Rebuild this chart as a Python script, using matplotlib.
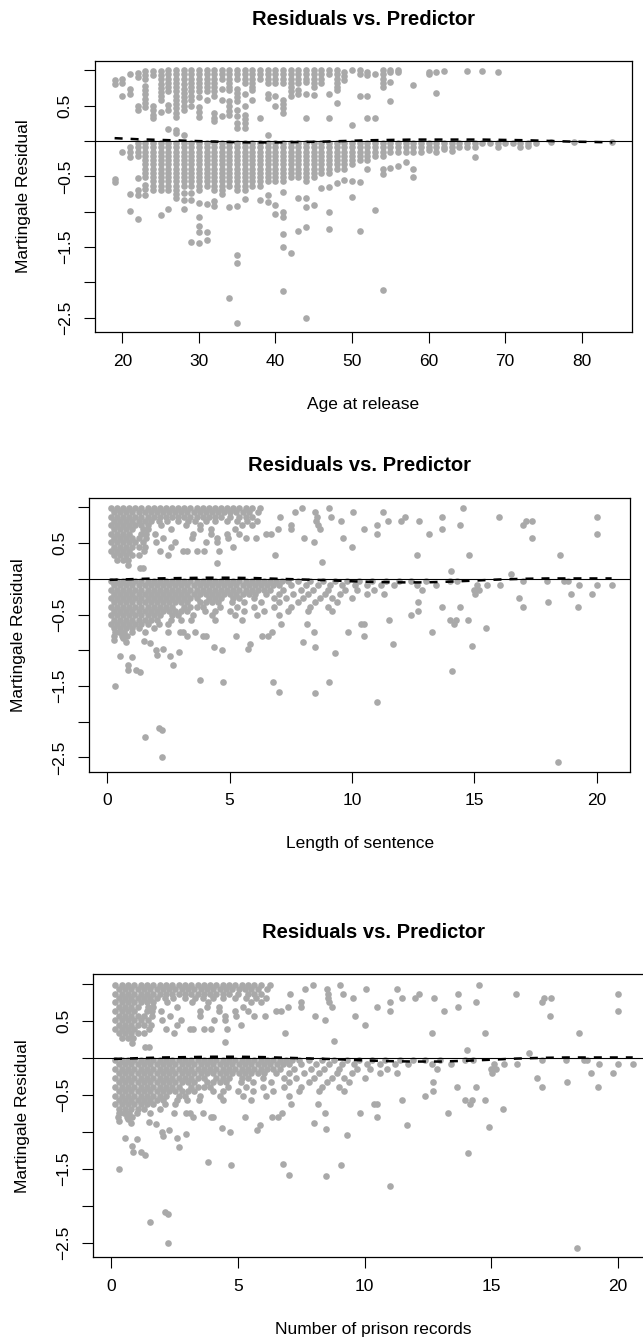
import matplotlib.pyplot as plt

plt.rcParams['font.family'] = ['Liberation Sans', 'DejaVu Sans']

# ---------------- panel 1: age at release (integer ages) ----------------
ages = [19, 20, 21, 22, 23, 24, 25, 26, 27, 28, 29, 30, 31, 32, 33, 34, 35, 36,
        37, 38, 39, 40, 41, 42, 43, 44, 45, 46, 47, 48, 49, 50, 51, 52, 53, 54,
        55, 56, 57, 58, 59, 60, 61, 62, 63, 64, 65, 66, 67, 68, 69, 70, 71, 72,
        73, 74, 76, 79, 84]

age_pos = [
    [0.86, 0.81],
    [0.88, 0.82, 0.64],
    [0.95, 0.73, 0.66],
    [0.96, 0.91, 0.5, 0.44],
    [0.99, 0.93, 0.87, 0.78, 0.72, 0.66, 0.6, 0.54, 0.48],
    [0.99, 0.93, 0.5, 0.44, 0.37, 0.32],
    [0.99, 0.93, 0.87, 0.81, 0.75, 0.69, 0.63, 0.58, 0.41],
    [1.0, 0.94, 0.88, 0.82, 0.76, 0.7, 0.51, 0.44, 0.17],
    [1.0, 0.94, 0.88, 0.82, 0.76, 0.7, 0.64, 0.58, 0.52, 0.46, 0.4, 0.34, 0.16, 0.11],
    [1.0, 0.94, 0.88, 0.8, 0.74, 0.68, 0.62, 0.56, 0.5, 0.44, 0.08],
    [1.0, 0.94, 0.88, 0.82, 0.76, 0.7, 0.64, 0.58, 0.5],
    [1.0, 0.94, 0.88, 0.82, 0.76, 0.7, 0.62, 0.48, 0.41, 0.34],
    [1.0, 0.94, 0.88, 0.82, 0.76, 0.7, 0.58],
    [1.0, 0.94, 0.88, 0.82, 0.76, 0.7, 0.64, 0.39, 0.33, 0.28],
    [1.0, 0.94, 0.88, 0.74, 0.58, 0.35],
    [1.0, 0.94, 0.88, 0.82, 0.76, 0.72, 0.56, 0.49, 0.43, 0.37],
    [1.0, 0.94, 0.88, 0.74, 0.68, 0.62, 0.56, 0.44, 0.35, 0.25, 0.18],
    [1.0, 0.94, 0.88, 0.82, 0.67, 0.49, 0.37, 0.31, 0.25, 0.19],
    [1.0, 0.94, 0.88, 0.82, 0.76, 0.72, 0.58],
    [1.0, 0.94, 0.88, 0.32],
    [1.0, 0.94, 0.88, 0.82, 0.67, 0.61, 0.09],
    [1.0, 0.94, 0.88, 0.82, 0.63, 0.49],
    [1.0, 0.94, 0.88, 0.82, 0.58, 0.52, 0.46, 0.4],
    [1.0, 0.94, 0.88, 0.82, 0.76, 0.7, 0.63],
    [1.0, 0.94, 0.88, 0.82, 0.72, 0.67],
    [1.0, 0.94, 0.88, 0.83, 0.67, 0.32],
    [1.0, 0.94, 0.88, 0.82, 0.77, 0.65],
    [1.0, 0.94, 0.88, 0.82],
    [1.0, 0.95, 0.66, 0.32],
    [1.0, 0.94, 0.88, 0.82, 0.76, 0.72, 0.53],
    [0.98, 0.92, 0.86],
    [1.0, 0.23],
    [1.0, 0.94, 0.63],
    [0.98, 0.93, 0.63, 0.32],
    [0.95, 0.32],
    [1.0, 0.94, 0.88, 0.82, 0.77],
    [1.0, 0.97, 0.84, 0.56],
    [1.0, 0.98],
    [],
    [0.79],
    [],
    [0.98, 0.95],
    [0.98, 0.68],
    [0.99],
    [], [],
    [0.99],
    [],
    [0.99],
    [],
    [0.98],
    [], [], [], [], [], [], [], [],
]

age_neg = [
    [-0.54, -0.58],
    [-0.15],
    [-0.08, -0.15, -0.22, -0.75, -0.99],
    [-0.03, -0.09, -0.15, -0.21, -0.53, -0.69, -0.77, -1.1],
    [-0.03, -0.09, -0.15, -0.21, -0.27, -0.33, -0.39, -0.45, -0.51, -0.62, -0.68, -0.77],
    [-0.03, -0.09, -0.15, -0.21, -0.27, -0.33, -0.39, -0.45, -0.51, -0.57, -0.63, -0.69],
    [-0.03, -0.09, -0.15, -0.21, -0.27, -0.33, -0.39, -0.45, -0.51, -0.57, -0.63, -0.69, -1.05],
    [-0.03, -0.09, -0.15, -0.21, -0.27, -0.33, -0.39, -0.45, -0.51, -0.57, -0.63, -0.69, -0.96],
    [-0.03, -0.09, -0.15, -0.21, -0.27, -0.33, -0.39, -0.45, -0.51, -0.57, -0.63, -0.69, -0.75, -0.81],
    [-0.03, -0.09, -0.15, -0.21, -0.27, -0.33, -0.39, -0.45, -0.51, -0.57, -0.63, -0.74, -0.83, -0.96],
    [-0.03, -0.09, -0.15, -0.21, -0.27, -0.33, -0.39, -0.45, -0.51, -0.57, -0.63, -0.74, -0.83, -1.43],
    [-0.03, -0.09, -0.15, -0.21, -0.27, -0.33, -0.39, -0.45, -0.51, -0.57, -0.63, -0.69, -0.88,
     -1.07, -1.2, -1.29, -1.44],
    [-0.03, -0.09, -0.15, -0.21, -0.27, -0.33, -0.39, -0.45, -0.51, -0.57, -0.63, -0.89, -1.29, -1.4],
    [-0.03, -0.09, -0.15, -0.21, -0.27, -0.33, -0.39, -0.45, -0.51, -0.57, -0.63, -0.69, -0.85, -0.92],
    [-0.03, -0.09, -0.15, -0.21, -0.27, -0.33, -0.39, -0.45, -0.51, -0.57, -0.63, -0.69, -0.75],
    [-0.03, -0.09, -0.15, -0.21, -0.27, -0.33, -0.39, -0.45, -0.51, -0.57, -0.63, -0.94, -2.22],
    [-0.03, -0.09, -0.15, -0.21, -0.27, -0.33, -0.39, -0.45, -0.51, -0.57, -0.63, -0.69, -0.92,
     -1.61, -1.73, -2.57],
    [-0.03, -0.09, -0.15, -0.21, -0.27, -0.33, -0.39, -0.45, -0.51, -0.57, -0.63, -0.69, -0.82],
    [-0.03, -0.09, -0.15, -0.21, -0.27, -0.33, -0.39, -0.45, -0.51, -0.57, -0.63],
    [-0.03, -0.09, -0.15, -0.21, -0.27, -0.33, -0.39, -0.45, -0.51, -0.57, -0.63, -0.84],
    [-0.03, -0.09, -0.15, -0.21, -0.27, -0.33, -0.39, -0.45, -0.51, -0.57, -0.76, -0.86],
    [-0.03, -0.09, -0.15, -0.21, -0.27, -0.33, -0.39, -0.45, -0.51, -0.57, -0.91, -1.03],
    [-0.03, -0.09, -0.15, -0.21, -0.27, -0.33, -0.39, -0.45, -0.51, -0.57, -0.72, -1.0, -1.07,
     -1.31, -1.5, -2.12],
    [-0.03, -0.09, -0.15, -0.21, -0.27, -0.33, -0.39, -0.45, -0.51, -1.58],
    [-0.03, -0.09, -0.15, -0.21, -0.27, -0.33, -0.39, -0.45, -0.51, -0.8, -1.27],
    [-0.03, -0.09, -0.15, -0.21, -0.27, -0.33, -0.39, -0.45, -0.51, -0.57, -0.8, -0.94, -1.21, -2.5],
    [-0.03, -0.09, -0.15, -0.21, -0.27, -0.33, -0.39, -0.45, -0.51, -0.9],
    [-0.03, -0.09, -0.15, -0.21, -0.27, -0.33, -0.39, -0.45, -0.67],
    [-0.03, -0.09, -0.15, -0.21, -0.27, -0.33, -0.39, -0.45, -0.65, -1.0, -1.25],
    [-0.03, -0.09, -0.15, -0.21, -0.27, -0.33, -0.39, -0.6],
    [-0.03, -0.09, -0.15, -0.21, -0.27, -0.33, -0.39, -0.55],
    [-0.03, -0.09, -0.15, -0.21, -0.27, -0.33, -0.56, -0.79],
    [-0.03, -0.09, -0.15, -0.21, -0.27, -0.58, -1.27],
    [-0.03, -0.09, -0.15, -0.21, -0.27, -0.4],
    [-0.03, -0.09, -0.15, -0.21, -0.97],
    [-0.03, -0.09, -0.15, -0.21, -0.4, -0.47, -2.1],
    [-0.03, -0.09, -0.15, -0.38],
    [-0.03, -0.09, -0.15, -0.35],
    [-0.03, -0.09, -0.15, -0.3],
    [-0.03, -0.09, -0.15, -0.4, -0.51],
    [-0.03, -0.09, -0.15],
    [-0.03, -0.09, -0.13],
    [-0.03, -0.09, -0.15],
    [-0.03, -0.09, -0.12],
    [-0.03, -0.09, -0.14],
    [-0.03, -0.08],
    [-0.03, -0.08],
    [-0.03, -0.08, -0.23],
    [-0.03],
    [-0.03],
    [-0.03, -0.09],
    [-0.03],
    [-0.03],
    [-0.03, -0.09],
    [-0.03, -0.07],
    [-0.03],
    [-0.02],
    [-0.02],
    [-0.01],
]

# lowess-type smooth drawn as the dashed line
age_smooth_x = [19, 22, 25, 28, 31, 34, 37, 40, 43, 46, 49, 52, 55, 58, 61, 64,
                67, 70, 73, 76, 79, 82, 84]
age_smooth_y = [0.04, 0.025, 0.015, 0.005, -0.005, -0.015, -0.02, -0.02, -0.015,
                -0.01, 0.0, 0.01, 0.015, 0.02, 0.02, 0.02, 0.02, 0.015, 0.01, 0.0,
                -0.01, -0.015, -0.02]

# ---------------- panels 2 and 3: length of sentence / prison records ----------------
pos_rows_res = [0.99, 0.93, 0.87, 0.81, 0.75, 0.69, 0.63, 0.57, 0.51, 0.45, 0.39, 0.33, 0.27]
pos_rows_x = [
    [0.15, 0.4, 0.65, 0.9, 1.15, 1.4, 1.65, 1.9, 2.15, 2.4, 2.65, 2.9, 3.15, 3.4, 3.65, 3.9,
     4.15, 4.4, 4.65, 4.9, 5.15, 5.4, 5.65, 5.9, 6.25, 7.95, 9.04, 14.52],
    [0.28, 0.53, 0.78, 1.03, 1.28, 1.53, 1.78, 2.03, 2.28, 2.53, 2.78, 3.03, 3.28, 3.53, 3.78,
     4.03, 4.28, 4.53, 4.78, 5.03, 5.28, 5.53, 5.78, 6.15, 7.65, 8.5, 10.05, 11.28],
    [0.15, 0.4, 0.65, 0.9, 1.15, 1.4, 1.65, 1.9, 2.15, 2.4, 2.65, 2.9, 3.15, 3.4, 3.65, 3.9,
     4.15, 4.4, 4.65, 5.0, 5.4, 5.65, 5.9, 7.06, 8.57, 9.14, 12.15, 13.68, 16.0, 20.0],
    [0.28, 0.53, 0.78, 1.03, 1.28, 1.53, 1.78, 2.1, 2.45, 2.9, 3.3, 3.6, 4.03, 4.4, 4.9, 5.3,
     5.7, 6.1, 8.54, 9.54, 11.48, 12.0, 12.74, 17.1, 17.35],
    [0.15, 0.4, 0.65, 0.9, 1.15, 1.4, 1.65, 2.2, 3.2, 3.8, 5.5, 5.9, 7.5, 8.6, 11.0, 14.39, 17.0],
    [0.28, 0.53, 0.78, 1.03, 1.45, 1.65, 2.6, 3.78, 4.24, 5.2, 6.97, 7.5, 8.7, 10.5, 13.68],
    [0.15, 0.4, 0.65, 0.9, 1.4, 1.6, 1.95, 3.5, 4.23, 4.9, 5.4, 6.5, 6.7, 11.0, 13.13, 20.0],
    [0.28, 0.53, 0.78, 1.03, 1.3, 1.6, 2.3, 3.48, 4.5, 4.92, 5.65, 6.08, 8.03, 9.63, 17.33],
    [0.15, 0.4, 0.65, 0.9, 1.15, 1.45, 2.0, 2.76, 4.05, 4.5, 8.43],
    [0.28, 0.53, 0.78, 1.03, 1.28, 1.55, 2.6, 5.13, 10.0],
    [0.15, 0.4, 0.65, 0.9, 1.5, 2.15, 3.1, 3.24, 3.65, 3.95, 4.55],
    [0.28, 0.53, 0.78, 1.03, 1.28, 2.49, 6.86, 12.65, 14.78, 18.49],
    [0.4, 0.65, 0.85],
]

neg_rows_res = [-0.03, -0.09, -0.15, -0.21, -0.27, -0.33, -0.39, -0.45, -0.51, -0.57,
                -0.63, -0.69, -0.75, -0.8]
neg_rows_x = [
    [0.15, 0.4, 0.65, 0.9, 1.15, 1.4, 1.65, 1.9, 2.15, 2.4, 2.65, 2.9, 3.15, 3.4, 3.65, 3.9,
     4.15, 4.4, 4.65, 4.9, 5.15, 5.4, 5.65, 5.9, 6.15, 6.4, 6.65, 6.9, 7.15, 7.4,
     7.8, 8.3, 8.8, 9.3, 9.8, 10.3, 10.8, 11.4, 11.9, 12.4, 13.0, 13.99, 14.28, 17.0,
     17.98, 18.66, 18.8],
    [0.28, 0.53, 0.78, 1.03, 1.28, 1.53, 1.78, 2.03, 2.28, 2.53, 2.78, 3.03, 3.28, 3.53, 3.78,
     4.03, 4.28, 4.53, 4.78, 5.03, 5.28, 5.53, 5.78, 6.03, 6.28, 6.53, 6.78, 7.03,
     7.5, 8.1, 8.6, 9.1, 9.6, 10.1, 10.6, 11.2, 11.7, 12.67, 13.43, 15.1, 15.5, 16.03,
     19.25, 20.0, 20.6],
    [0.15, 0.4, 0.65, 0.9, 1.15, 1.4, 1.65, 1.9, 2.15, 2.4, 2.65, 2.9, 3.15, 3.4, 3.65, 3.9,
     4.15, 4.4, 4.65, 4.9, 5.15, 5.4, 5.65, 5.9, 6.15, 6.4, 6.65,
     7.2, 7.9, 8.4, 9.0, 9.7, 10.2, 10.9, 12.87, 15.0, 15.2],
    [0.28, 0.53, 0.78, 1.03, 1.28, 1.53, 1.78, 2.03, 2.28, 2.53, 2.78, 3.03, 3.28, 3.53, 3.78,
     4.03, 4.28, 4.53, 4.78, 5.03, 5.28, 5.53, 5.78, 6.03,
     6.5, 7.0, 7.6, 8.2, 8.9, 9.5, 10.6, 11.3, 15.04, 18.96, 19.8],
    [0.15, 0.4, 0.65, 0.9, 1.15, 1.4, 1.65, 1.9, 2.15, 2.4, 2.65, 2.9, 3.15, 3.4, 3.65,
     4.15, 4.4, 4.65, 5.15, 5.4,
     6.0, 6.8, 7.3, 8.0, 8.7, 9.2, 10.0, 16.8],
    [0.28, 0.53, 0.78, 1.03, 1.28, 1.53, 1.78, 2.03, 2.28, 2.53, 2.78, 3.03, 3.28, 3.78,
     4.03, 4.28, 4.53,
     5.1, 5.6, 6.3, 7.0, 7.8, 8.5, 9.4, 12.7, 18.0],
    [0.15, 0.4, 0.65, 0.9, 1.15, 1.4, 1.65, 1.9, 2.15, 2.4, 2.65, 3.15, 3.4, 3.65, 3.9,
     4.6, 5.3, 6.0, 6.8, 7.5, 8.3, 9.0, 13.66, 14.4, 17.0, 19.22],
    [0.28, 0.53, 0.78, 1.03, 1.28, 1.53, 1.78, 2.03, 2.28, 2.53, 2.78, 3.03, 3.28,
     4.0, 4.4, 5.0, 5.6, 6.4, 7.4, 8.2, 9.2, 12.7],
    [0.15, 0.4, 0.65, 0.9, 1.15, 1.4, 1.65, 1.9, 2.15, 2.65, 2.9,
     3.5, 4.3, 5.2, 6.1, 7.0, 12.4],
    [0.28, 0.53, 0.78, 1.03, 1.28, 1.53, 1.78, 2.03,
     2.6, 3.0, 3.44, 4.4, 5.5, 11.5, 13.99, 14.25, 14.75],
    [0.15, 0.4, 0.65, 0.9, 1.15, 1.4, 1.65, 2.1, 2.5, 7.1, 8.18, 10.36, 10.49, 14.16],
    [0.28, 0.53, 0.78, 1.03, 1.28, 1.9, 15.47],
    [0.3, 0.5, 0.7, 1.0, 1.54, 2.49, 2.96, 3.09, 3.6, 6.75, 8.44, 9.82, 13.28],
    [0.27, 0.6, 0.8, 3.24, 3.92, 4.03, 5.28, 6.33, 6.57, 10.49],
]

sent_scatter = [
    (0.83, 0.2), (1.33, 0.15), (1.47, 0.15), (4.5, 0.22), (8.79, 0.23), (14.05, 0.11),
    (16.5, 0.07), (0.29, -0.86), (0.65, -0.83), (0.76, -0.88), (0.52, -1.08), (1.0, -1.1),
    (0.83, -1.2), (0.86, -1.27), (1.17, -1.28), (1.33, -1.31), (1.5, -0.87), (1.74, -0.9),
    (2.0, -1.0), (2.03, -1.06), (2.26, -0.98), (2.58, -1.08), (2.67, -1.21), (2.94, -1.03),
    (3.8, -1.41), (4.37, -0.95), (4.67, -1.0), (4.73, -1.45), (5.75, -0.98), (5.85, -0.91),
    (6.77, -1.44), (7.02, -1.58), (8.0, -0.88), (8.49, -0.96), (8.49, -1.6), (9.06, -1.45),
    (9.3, -1.04), (11.02, -1.73), (11.66, -0.91), (14.1, -1.29), (14.9, -0.94), (0.31, -1.5),
    (1.54, -2.22), (2.11, -2.09), (2.23, -2.11), (2.23, -2.5), (18.4, -2.57),
]

sent_smooth_x = [0.1, 1, 2, 3, 4, 5, 6, 7, 8, 9, 10, 11, 12, 13, 14, 15, 16, 17, 18,
                 19, 20, 20.6]
sent_smooth_y = [-0.015, -0.005, 0.005, 0.01, 0.015, 0.015, 0.01, 0.0, -0.01, -0.02,
                 -0.035, -0.045, -0.05, -0.05, -0.04, -0.025, -0.01, 0.0, 0.005, 0.005,
                 0.005, 0.005]

# flatten
age_x, age_y = [], []
for a, p, n in zip(ages, age_pos, age_neg):
    for r in p + n:
        age_x.append(a)
        age_y.append(r)

sent_x, sent_r = [], []
for r, xs in zip(pos_rows_res + neg_rows_res, pos_rows_x + neg_rows_x):
    sent_x += xs
    sent_r += [r] * len(xs)
for x, r in sent_scatter:
    sent_x.append(x)
    sent_r.append(r)

W, H = 643, 1341
fig = plt.figure(figsize=(W / 100, H / 100), dpi=100)


def panel(left, top, right, bottom, x, y, sx, sy, xlim, xticks, xlabel, title_off=30):
    ax = fig.add_axes([left / W, 1 - bottom / H, (right - left) / W, (bottom - top) / H])
    ax.scatter(x, y, s=23, c='#a9a9a9', linewidths=0, zorder=2)
    ax.axhline(0, color='black', lw=0.8, zorder=3)
    ax.plot(sx, sy, color='black', lw=1.8, ls=(0, (3.2, 3.2)), zorder=4)
    ax.set_xlim(xlim)
    ax.set_ylim(-2.70, 1.135)
    ax.set_xticks(xticks)
    ax.set_yticks([1.0, 0.5, 0, -0.5, -1, -1.5, -2, -2.5])
    ax.set_yticklabels(['', '0.5', '', '\u22120.5', '', '\u22121.5', '', '\u22122.5'],
                       rotation=90, va='center')
    ax.tick_params(direction='out', length=8, width=0.8, labelsize=12.5)
    ax.tick_params(axis='x', pad=7.5)
    ax.tick_params(axis='y', pad=7.8)
    for s in ax.spines.values():
        s.set_linewidth(0.9)
    ax.annotate('Residuals vs. Predictor', (0.5, 1), xycoords='axes fraction',
                xytext=(0, title_off), textcoords='offset points', ha='center',
                va='center', fontsize=14.5, fontweight='bold')
    ax.annotate(xlabel, (0.5, 0), xycoords='axes fraction', xytext=(0, -52),
                textcoords='offset points', ha='center', va='center', fontsize=12.5)
    ax.annotate('Martingale Residual', (0, 0.5), xycoords='axes fraction',
                xytext=(-51, 0), textcoords='offset points', ha='center', va='center',
                rotation=90, fontsize=12.5)
    return ax


panel(94.7, 60.7, 632.3, 332, age_x, age_y, age_smooth_x, age_smooth_y,
      (16.4, 86.6), [20, 30, 40, 50, 60, 70, 80], 'Age at release')
panel(89.3, 497.7, 630, 771.7, sent_x, sent_r, sent_smooth_x, sent_smooth_y,
      (-0.73, 21.35), [0, 5, 10, 15, 20], 'Length of sentence', title_off=23.5)
panel(93, 974, 653, 1257.3, sent_x, sent_r, sent_smooth_x, sent_smooth_y,
      (-0.73, 21.4), [0, 5, 10, 15, 20], 'Number of prison records')

fig.savefig('out.png', dpi=100)
